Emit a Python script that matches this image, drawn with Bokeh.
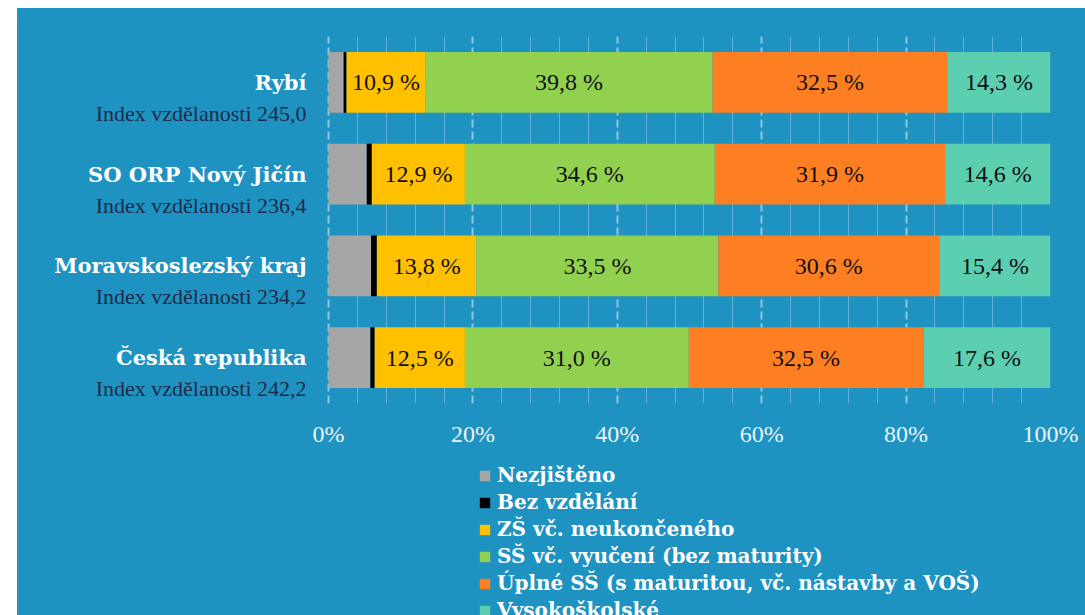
from bokeh.plotting import figure
from bokeh.layouts import column
from bokeh.models import Range1d, FactorRange, ColumnDataSource, FixedTicker, Legend, LegendItem
from bokeh.core.properties import value
from bokeh.embed import file_html
from bokeh.resources import INLINE

regions = ["Rybí", "SO ORP Nový Jičín", "Moravskoslezský kraj", "Česká republika"]
index_labels = ["Index vzdělanosti 245,0", "Index vzdělanosti 236,4",
                "Index vzdělanosti 234,2", "Index vzdělanosti 242,2"]
categories = ["Nezjištěno", "Bez vzdělání", "ZŠ vč. neukončeného",
              "SŠ vč. vyučení (bez maturity)",
              "Úplné SŠ (s maturitou, vč. nástavby a VOŠ)", "Vysokoškolské"]
nezjisteno = [2.1, 5.3, 5.9, 5.8]
bez_vzdelani = [0.4, 0.7, 0.8, 0.6]
zs = [10.9, 12.9, 13.8, 12.5]
ss_vyuceni = [39.8, 34.6, 33.5, 31.0]
uplne_ss = [32.5, 31.9, 30.6, 32.5]
vysokoskolske = [14.3, 14.6, 15.4, 17.6]
tick_values = [0, 20, 40, 60, 80, 100]
tick_labels = ["0%", "20%", "40%", "60%", "80%", "100%"]

colors = ["#a6a6a6", "#000000", "#ffc000", "#92d050", "#fd7f22", "#5ccfb1"]
keys = ["s0", "s1", "s2", "s3", "s4", "s5"]
series = [nezjisteno, bez_vzdelani, zs, ss_vyuceni, uplne_ss, vysokoskolske]
labelled = [False, False, True, True, True, True]

data = {"region": regions, "index": index_labels, "x0": [0] * len(regions)}
for k, s in zip(keys, series):
    data[k] = s
src = ColumnDataSource(data)

lx, ly, lt = [], [], []
for i, r in enumerate(regions):
    left = 0.0
    for s, lab in zip(series, labelled):
        v = s[i]
        if lab:
            lx.append(left + v / 2)
            ly.append(r)
            lt.append(f"{v:.1f} %".replace(".", ","))
        left += v
lsrc = ColumnDataSource(dict(x=lx, y=ly, t=lt))

# layout (pixels)
LEFT_SPACE = 311      # room for the row labels, left of 0 %
BAR_W = 722           # 0 % .. 100 %
RIGHT_SPACE = 35
FRAME_H = 367
TOP = 28
BOTTOM = 50
W = LEFT_SPACE + BAR_W + RIGHT_SPACE
H = TOP + FRAME_H + BOTTOM
LEG_H = 615 - 8 - H
x_start = -100.0 * LEFT_SPACE / BAR_W
BG = "#1e92c1"

p = figure(width=W, height=H, output_backend="svg", toolbar_location=None,
           x_range=Range1d(x_start, 100), y_range=FactorRange(*reversed(regions), range_padding=0),
           min_border_left=0, min_border_right=RIGHT_SPACE,
           min_border_top=TOP, min_border_bottom=BOTTOM)
p.styles = {"background-color": BG}
p.background_fill_color = None
p.border_fill_color = None
p.outline_line_color = None

rs = p.hbar_stack(keys, y="region", height=0.66, fill_color=colors, line_color=None, source=src)

p.text(x="x", y="y", text="t", source=lsrc, text_align="center", text_baseline="middle",
       text_font=value("Liberation Serif"), text_font_size="24px", text_color="#111111")

# row labels
p.text(x="x0", y="region", text="region", source=src, x_offset=-22,
       text_align="right", text_baseline="middle",
       text_font=value("DejaVu Serif"), text_font_style="bold",
       text_font_size="21px", text_color="white")
p.text(x="x0", y="region", text="index", source=src, x_offset=-22, y_offset=31,
       text_align="right", text_baseline="middle",
       text_font=value("Liberation Serif"), text_font_size="22px", text_color="#1f2b4a")

# x axis
p.xaxis.ticker = FixedTicker(ticks=tick_values,
                             minor_ticks=[v for v in range(0, 101, 4) if v % 20])
p.xaxis.major_label_overrides = dict(zip(tick_values, tick_labels))
p.xaxis.axis_line_color = None
p.xaxis.major_tick_line_color = None
p.xaxis.minor_tick_line_color = None
p.xaxis.major_label_standoff = 11
p.xaxis.major_label_text_font = "Liberation Serif"
p.xaxis.major_label_text_font_size = "24px"
p.xaxis.major_label_text_color = "#eaf4fa"
p.yaxis.visible = False

# grid
p.ygrid.grid_line_color = None
p.xgrid.grid_line_color = "#8fc6e0"
p.xgrid.grid_line_width = 2
p.xgrid.grid_line_dash = "8 4"
p.xgrid.minor_grid_line_color = "#62b2d8"
p.xgrid.minor_grid_line_width = 1

# legend panel (separate figure below the chart)
q = figure(width=W, height=LEG_H, output_backend="svg", toolbar_location=None,
           x_range=Range1d(0, 100), y_range=FactorRange(*reversed(regions)),
           x_axis_location=None, y_axis_location=None,
           min_border_left=0, min_border_right=RIGHT_SPACE,
           min_border_top=0, min_border_bottom=0)
q.styles = {"background-color": BG}
q.background_fill_color = None
q.border_fill_color = None
q.outline_line_color = None
q.grid.visible = False
rs2 = q.hbar_stack(keys, y="region", height=0.66, fill_color=colors, line_color=None, source=src)
for r in rs2:
    r.visible = False

lg = Legend(items=[LegendItem(label=c, renderers=[r]) for c, r in zip(categories, rs2)])
lg.location = (LEFT_SPACE + 150, -7)
lg.orientation = "vertical"
lg.background_fill_alpha = 0
lg.border_line_color = None
lg.inactive_fill_alpha = 0
lg.padding = 0
lg.margin = 0
lg.spacing = 3
lg.glyph_width = 13
lg.glyph_height = 13
lg.label_standoff = 6
lg.label_height = 20
lg.label_text_font = "DejaVu Serif"
lg.label_text_font_style = "bold"
lg.label_text_font_size = "20px"
lg.label_text_color = "white"
q.add_layout(lg)

layout = column(p, q, spacing=0)
layout.margin = (8, 0, 0, 17)
layout.styles = {"background-color": BG}

open("out.html", "w").write(file_html(layout, INLINE))
